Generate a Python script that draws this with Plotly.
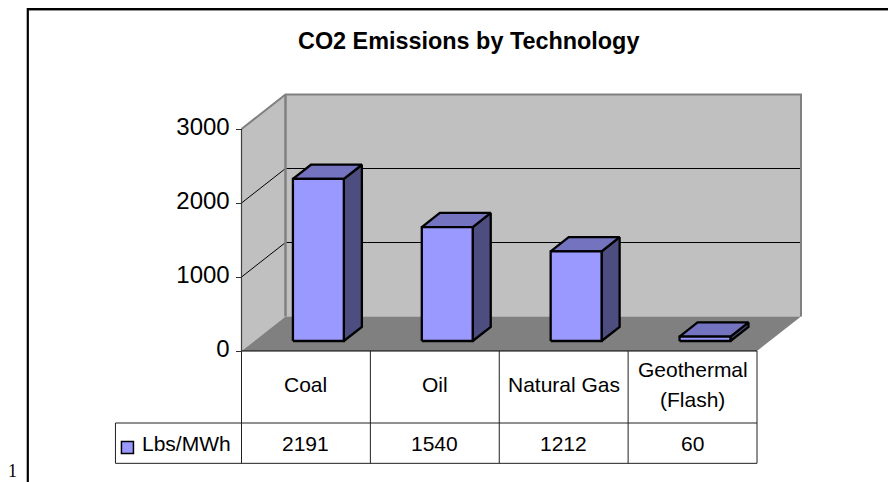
import plotly.graph_objects as go

# ---- data ----
categories = ["Coal", "Oil", "Natural Gas", "Geothermal<br>(Flash)"]
values = [2191, 1540, 1212, 60]
series_name = "Lbs/MWh"
y_ticks = [0, 1000, 2000, 3000]
title = "CO2 Emissions by Technology"

# ---- layout constants (page body has an 8px margin) ----
PAGE = 8
W, H = 896 - PAGE, 482 - PAGE
X0_PX, X_UNIT = 241.5 - PAGE, 128.875   # pixel of category 0, pixels per category
Y0_PX, Y_UNIT = 351.0 - PAGE, 0.074     # pixel of value 0, pixels per value unit
DX, DY = 44 / X_UNIT, 34.5 / Y_UNIT     # oblique depth vector, data units
NCAT, VMAX = len(categories), y_ticks[-1]
BAR_L, BAR_R, Z0, Z1 = 0.30, 0.695, 0.29, 0.70
ROW1, ROW2 = -973, -1518                # table rows below the floor
TABLE_LEFT = -0.978
FRONT, TOP, SIDE = "#9999FF", "#7373BF", "#4D4D80"
WALL, FLOOR, EDGE = "#C0C0C0", "#808080", "#808080"
SANS, SERIF = "Liberation Sans", "Liberation Serif"
TICK_SIZE, TABLE_SIZE, TITLE_SIZE = 24, 21, 23.4


def P(x, v, z=0.0):
    return x + z * DX, v + z * DY


def px(x):
    return (x - PAGE) / W


def py(y):
    return 1 - (y - PAGE) / H


fig = go.Figure()


def poly(pts, fill=None, line=None, width=1.0):
    xs = [p[0] for p in pts]
    ys = [p[1] for p in pts]
    if fill:
        xs.append(xs[0]); ys.append(ys[0])
    fig.add_trace(go.Scatter(
        x=xs, y=ys, mode="lines", fill="toself" if fill else None,
        fillcolor=fill, line=dict(color=line or fill, width=width if line else 0),
        hoverinfo="skip", showlegend=False))


def label(x, v, s, size=TABLE_SIZE):
    fig.add_annotation(x=x, y=v, text=s, showarrow=False, xref="x", yref="y",
                       xanchor="center", yanchor="middle",
                       font=dict(family=SANS, size=size, color="black"))


# walls and floor
poly([P(0, 0, 0), P(0, VMAX, 0), P(0, VMAX, 1), P(0, 0, 1)], WALL)
poly([P(0, 0, 1), P(0, VMAX, 1), P(NCAT, VMAX, 1), P(NCAT, 0, 1)], WALL)
poly([P(0, 0, 0), P(NCAT, 0, 0), P(NCAT, 0, 1), P(0, 0, 1)], FLOOR)

# gridlines
for t in y_ticks[1:-1]:
    poly([P(0, t, 0), P(0, t, 1), P(NCAT, t, 1)], line="black", width=1)

# wall edges
poly([P(0, VMAX, 0), P(0, VMAX, 1), P(NCAT, VMAX, 1), P(NCAT, 0, 1)], line=EDGE, width=2)
poly([P(0, VMAX, 1), P(0, 0, 1)], line=EDGE, width=2.5)

# bars
for i, v in enumerate(values):
    xl, xr = i + BAR_L, i + BAR_R
    poly([P(xr, 0, Z0), P(xr, v, Z0), P(xr, v, Z1), P(xr, 0, Z1)], SIDE, "black", 2.3)
    poly([P(xl, v, Z0), P(xr, v, Z0), P(xr, v, Z1), P(xl, v, Z1)], TOP, "black", 2.3)
    poly([P(xl, 0, Z0), P(xr, 0, Z0), P(xr, v, Z0), P(xl, v, Z0)], FRONT, "black", 2.3)

# value axis line and table grid
poly([(0, 0), (0, VMAX)], line="#404040", width=1.2)
poly([(0, 0), (NCAT, 0)], line="black", width=1.2)
poly([(TABLE_LEFT, ROW1), (NCAT, ROW1)], line="#202020", width=1)
poly([(TABLE_LEFT, ROW2), (NCAT, ROW2)], line="#202020", width=1)
poly([(TABLE_LEFT, ROW1), (TABLE_LEFT, ROW2)], line="#202020", width=1)
for i in range(NCAT + 1):
    poly([(i, 0), (i, ROW2)], line="#202020", width=1)

# table text
for i, (c, v) in enumerate(zip(categories, values)):
    lines = c.split("<br>")
    mid = ROW1 / 2 + 35
    step = 396
    for k, s in enumerate(lines):
        label(i + 0.5, mid + step * ((len(lines) - 1) / 2 - k), s)
    label(i + 0.5, (ROW1 + ROW2) / 2 - 10, str(v))

# legend key in the table
fig.add_trace(go.Scatter(
    x=[-0.885], y=[(ROW1 + ROW2) / 2 - 60], mode="markers",
    marker=dict(symbol="square", size=12, color=FRONT, line=dict(color="black", width=1.5)),
    hoverinfo="skip", showlegend=False))
label(-0.423, (ROW1 + ROW2) / 2 - 10, series_name)

# title and page furniture
fig.add_annotation(x=px(468), y=py(40.5), xref="paper", yref="paper", text=f"<b>{title}</b>",
                   xanchor="center", yanchor="middle", showarrow=False,
                   font=dict(family=SANS, size=TITLE_SIZE, color="black"))
fig.add_annotation(x=px(12.5), y=py(470.5), xref="paper", yref="paper", text="1",
                   xanchor="center", yanchor="middle", showarrow=False,
                   font=dict(family=SERIF, size=18, color="black"))


def frame_line(x0, y0, x1, y1, color, width):
    return dict(type="line", xref="paper", yref="paper", x0=px(x0), x1=px(x1),
                y0=py(y0), y1=py(y1), line=dict(color=color, width=width), layer="above")


fig.update_layout(
    width=W, height=H, margin=dict(l=0, r=0, t=0, b=0, pad=0),
    autosize=False, paper_bgcolor="white", plot_bgcolor="white", showlegend=False,
    hovermode=False,
    shapes=[
        frame_line(28, 10.5, 896, 10.5, "#909090", 1),
        frame_line(27.8, 9, 896, 9, "black", 2.2),
        frame_line(27.8, 8, 27.8, 482, "black", 2.2),
    ],
    xaxis=dict(visible=False, domain=[0, 1], fixedrange=True,
               range=[-X0_PX / X_UNIT, (W - X0_PX) / X_UNIT]),
    yaxis=dict(anchor="free", position=X0_PX / W, domain=[0, 1], fixedrange=True,
               range=[-(H - Y0_PX) / Y_UNIT, Y0_PX / Y_UNIT],
               tickvals=y_ticks, ticktext=[str(t) for t in y_ticks],
               ticks="outside", ticklen=6, tickcolor="#303030", tickwidth=1,
               ticklabelshift=-2, ticklabelstandoff=1,
               tickfont=dict(family=SANS, size=TICK_SIZE, color="black"),
               showgrid=False, zeroline=False, showline=False),
)
fig.write_html("out.html")
